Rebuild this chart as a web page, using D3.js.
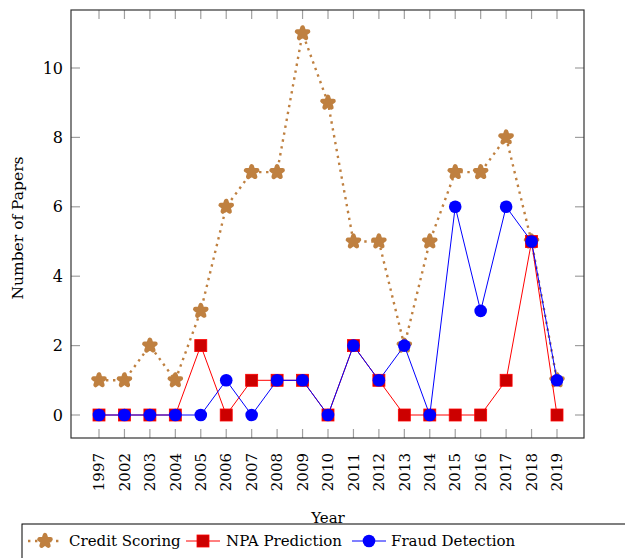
<!DOCTYPE html>
<html><head><meta charset="utf-8">
<script src="https://cdn.jsdelivr.net/npm/d3@7"></script>
<style>body{margin:0;background:#fff;} svg text{font-family:"DejaVu Serif","Liberation Serif","Times New Roman",serif;}</style>
</head><body>
<svg id="chart" width="625" height="558"></svg>
<script>
const years = ["1997","2002","2003","2004","2005","2006","2007","2008","2009","2010","2011","2012","2013","2014","2015","2016","2017","2018","2019"];
const creditScoring = [1,1,2,1,3,6,7,7,11,9,5,5,2,5,7,7,8,5,1];
const npaPrediction = [0,0,0,0,2,0,1,1,1,0,2,1,0,0,0,0,1,5,0];
const fraudDetection = [0,0,0,0,0,1,0,1,1,0,2,1,2,0,6,3,6,5,1];
const yTicks = [0,2,4,6,8,10];
const seriesNames = ["Credit Scoring","NPA Prediction","Fraud Detection"];

const FS = 15;
const svg = d3.select("#chart");
const L = 71, R = 584, T = 10, B = 438;
const x = d3.scalePoint().domain(years).range([99, 557]);
const y = d3.scaleLinear().domain([0, 10]).range([415, 68]);

const tickColor = "#a0a0a0";
yTicks.forEach(v => {
  svg.append("line").attr("x1", L).attr("x2", L + 9).attr("y1", y(v)).attr("y2", y(v)).attr("stroke", tickColor).attr("stroke-width", 1.2);
  svg.append("line").attr("x1", R).attr("x2", R - 9).attr("y1", y(v)).attr("y2", y(v)).attr("stroke", tickColor).attr("stroke-width", 1.2);
});
years.forEach(v => {
  svg.append("line").attr("x1", x(v)).attr("x2", x(v)).attr("y1", B).attr("y2", B - 9).attr("stroke", tickColor).attr("stroke-width", 1.2);
  svg.append("line").attr("x1", x(v)).attr("x2", x(v)).attr("y1", T).attr("y2", T + 9).attr("stroke", tickColor).attr("stroke-width", 1.2);
});
svg.append("rect").attr("x", L).attr("y", T).attr("width", R - L).attr("height", B - T)
  .attr("fill", "none").attr("stroke", "#333").attr("stroke-width", 1.2);

svg.append("g").selectAll("text").data(yTicks).join("text")
  .attr("x", L - 8).attr("y", d => y(d)).attr("dy", "0.35em")
  .attr("text-anchor", "end").attr("font-size", 16).text(d => d);
svg.append("g").selectAll("text").data(years).join("text")
  .attr("transform", d => `translate(${x(d)},${B + 15}) rotate(-90)`)
  .attr("dy", "0.35em").attr("text-anchor", "end").attr("font-size", FS).text(d => d);

svg.append("text").attr("transform", `translate(18,228) rotate(-90)`)
  .attr("text-anchor", "middle").attr("dy", "0.35em").attr("font-size", 15.5).text("Number of Papers");
svg.append("text").attr("x", 328).attr("y", 523).attr("text-anchor", "middle").attr("font-size", FS).text("Year");

const line = d3.line().x((d, i) => x(years[i])).y(d => y(d));
const brown = "#bf8040";
const star = d3.symbol().type(d3.symbolStar).size(38);
const dots = "2.4 4.6";

function drawCredit(g, pts) {
  g.selectAll("path.m").data(pts).join("path").attr("class", "m")
    .attr("transform", d => `translate(${d[0]},${d[1]})`)
    .attr("d", star).attr("fill", brown).attr("stroke", brown).attr("stroke-width", 4.5).attr("stroke-linejoin", "round");
}
function drawSquare(g, pts) {
  g.selectAll("rect.m").data(pts).join("rect").attr("class", "m")
    .attr("x", d => d[0] - 6).attr("y", d => d[1] - 6).attr("width", 12).attr("height", 12)
    .attr("fill", "#cc0000").attr("stroke", "#ff0000").attr("stroke-width", 0.8);
}
function drawCircle(g, pts) {
  g.selectAll("circle.m").data(pts).join("circle").attr("class", "m")
    .attr("cx", d => d[0]).attr("cy", d => d[1]).attr("r", 6.3).attr("fill", "#0000ff");
}

const g1 = svg.append("g");
g1.append("path").datum(creditScoring).attr("d", line).attr("fill", "none").attr("stroke", brown)
  .attr("stroke-width", 2.4).attr("stroke-dasharray", dots);
drawCredit(g1, creditScoring.map((v, i) => [x(years[i]), y(v)]));
const g2 = svg.append("g");
g2.append("path").datum(npaPrediction).attr("d", line).attr("fill", "none").attr("stroke", "#ff0000").attr("stroke-width", 1);
drawSquare(g2, npaPrediction.map((v, i) => [x(years[i]), y(v)]));
const g3 = svg.append("g");
g3.append("path").datum(fraudDetection).attr("d", line).attr("fill", "none").attr("stroke", "#0000ff").attr("stroke-width", 1);
drawCircle(g3, fraudDetection.map((v, i) => [x(years[i]), y(v)]));

const lg = svg.append("g");
lg.append("rect").attr("x", 22).attr("y", 524).attr("width", 640).attr("height", 60)
  .attr("fill", "#fff").attr("stroke", "#000").attr("stroke-width", 1);
const ly = 541;
const entries = [
  {x0: 28, x1: 62, tx: 69, name: seriesNames[0]},
  {x0: 186, x1: 220, tx: 226, name: seriesNames[1]},
  {x0: 352, x1: 386, tx: 391, name: seriesNames[2]}
];
lg.append("line").attr("x1", entries[0].x0).attr("x2", entries[0].x1).attr("y1", ly).attr("y2", ly)
  .attr("stroke", brown).attr("stroke-width", 2.4).attr("stroke-dasharray", dots);
drawCredit(lg.append("g"), [[45, ly]]);
lg.append("line").attr("x1", entries[1].x0).attr("x2", entries[1].x1).attr("y1", ly).attr("y2", ly).attr("stroke", "#ff0000");
drawSquare(lg.append("g"), [[203, ly]]);
lg.append("line").attr("x1", entries[2].x0).attr("x2", entries[2].x1).attr("y1", ly).attr("y2", ly).attr("stroke", "#0000ff");
drawCircle(lg.append("g"), [[369, ly]]);
entries.forEach(e => {
  lg.append("text").attr("x", e.tx).attr("y", ly).attr("dy", "0.35em").attr("font-size", FS).text(e.name);
});
</script>
</body></html>
